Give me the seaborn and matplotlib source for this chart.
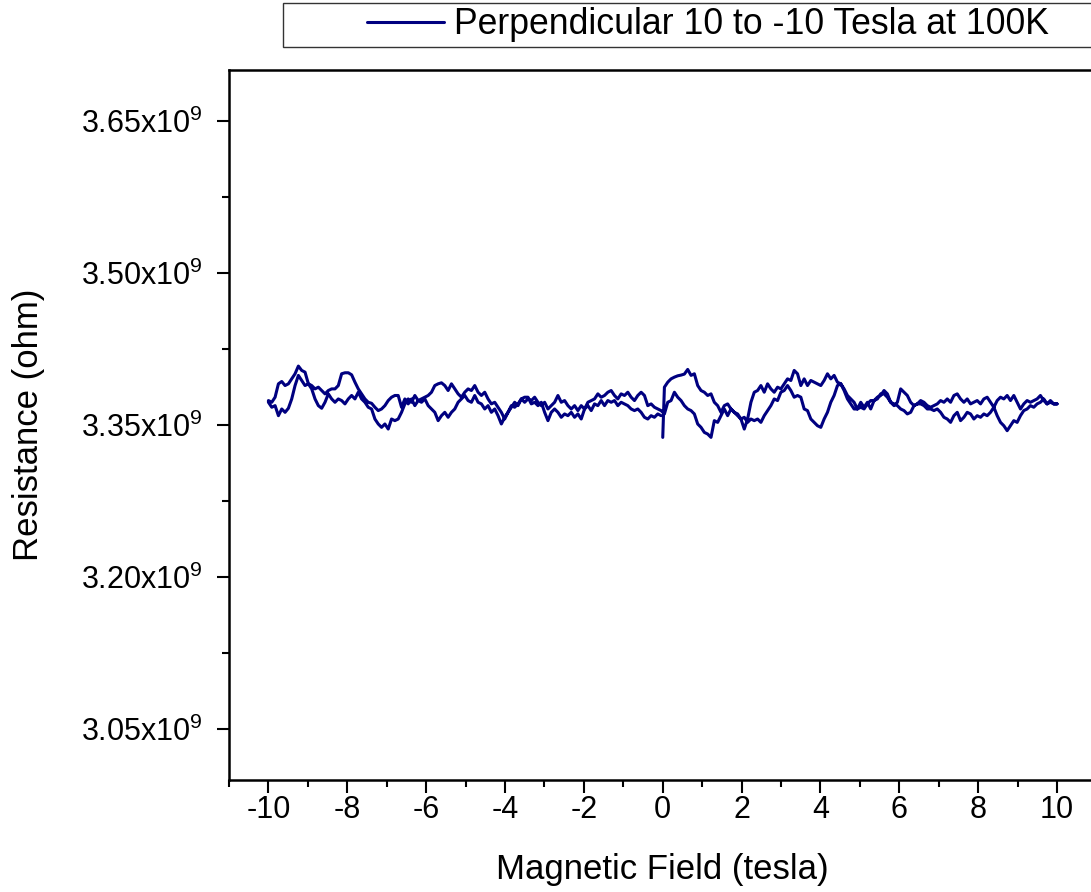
import numpy as np
import pandas as pd
import matplotlib
matplotlib.use("Agg")
import matplotlib.pyplot as plt
from matplotlib.ticker import FixedLocator, AutoMinorLocator, FuncFormatter
from matplotlib.patches import Rectangle
from matplotlib.lines import Line2D
import seaborn as sns

# Field sweep grid (tesla): 119 steps on each side of zero
field = np.linspace(-10, 10, 238)
field_neg = field[:119]
field_pos = field[119:]

# Resistance readings in units of 1e9 ohm
r_start = 3.3378  # first reading at 0 T

# 0 -> +10 T
r_up_pos = [
    3.3873, 3.3922, 3.3955, 3.3972, 3.3985, 3.3992, 3.4002, 3.4048, 3.3989, 3.4005,
    3.3889, 3.3840, 3.3823, 3.3791, 3.3807, 3.3724, 3.3691, 3.3625, 3.3691, 3.3708,
    3.3658, 3.3625, 3.3609, 3.3559, 3.3460, 3.3559, 3.3724, 3.3823, 3.3840, 3.3889,
    3.3823, 3.3906, 3.3856, 3.3823, 3.3873, 3.3856, 3.3906, 3.3955, 3.3939, 3.4038,
    3.4005, 3.3889, 3.3955, 3.3889, 3.3939, 3.3922, 3.3906, 3.3889, 3.3939, 3.4005,
    3.3955, 3.3989, 3.3922, 3.3906, 3.3856, 3.3791, 3.3757, 3.3724, 3.3658, 3.3724,
    3.3675, 3.3724, 3.3658, 3.3741, 3.3774, 3.3791, 3.3840, 3.3807, 3.3724, 3.3691,
    3.3724, 3.3856, 3.3823, 3.3791, 3.3724, 3.3691, 3.3708, 3.3741, 3.3724, 3.3691,
    3.3675, 3.3691, 3.3708, 3.3741, 3.3724, 3.3757, 3.3724, 3.3791, 3.3807, 3.3757,
    3.3724, 3.3757, 3.3708, 3.3724, 3.3741, 3.3708, 3.3757, 3.3774, 3.3724, 3.3675,
    3.3741, 3.3774, 3.3757, 3.3791, 3.3741, 3.3791, 3.3724, 3.3658, 3.3708, 3.3741,
    3.3724, 3.3741, 3.3757, 3.3791, 3.3741, 3.3708, 3.3724, 3.3708, 3.3708,
]

# +10 -> 0 T (listed in increasing field)
r_down_pos = [
    3.3609, 3.3724, 3.3741, 3.3823, 3.3774, 3.3741, 3.3691, 3.3658, 3.3642, 3.3609,
    3.3510, 3.3477, 3.3427, 3.3411, 3.3378, 3.3543, 3.3526, 3.3592, 3.3658, 3.3592,
    3.3658, 3.3625, 3.3592, 3.3559, 3.3576, 3.3526, 3.3559, 3.3543, 3.3559, 3.3526,
    3.3592, 3.3642, 3.3691, 3.3757, 3.3741, 3.3823, 3.3840, 3.3889, 3.3840, 3.3774,
    3.3791, 3.3774, 3.3658, 3.3642, 3.3559, 3.3526, 3.3493, 3.3477, 3.3559, 3.3625,
    3.3724, 3.3791, 3.3889, 3.3906, 3.3840, 3.3757, 3.3708, 3.3658, 3.3658, 3.3675,
    3.3658, 3.3708, 3.3741, 3.3741, 3.3757, 3.3807, 3.3807, 3.3774, 3.3724, 3.3708,
    3.3691, 3.3658, 3.3642, 3.3609, 3.3625, 3.3691, 3.3708, 3.3708, 3.3691, 3.3658,
    3.3658, 3.3642, 3.3658, 3.3625, 3.3576, 3.3559, 3.3526, 3.3592, 3.3625, 3.3543,
    3.3576, 3.3625, 3.3609, 3.3559, 3.3592, 3.3576, 3.3609, 3.3592, 3.3625, 3.3675,
    3.3592, 3.3526, 3.3493, 3.3444, 3.3493, 3.3543, 3.3526, 3.3592, 3.3642, 3.3658,
    3.3691, 3.3675, 3.3708, 3.3724, 3.3757, 3.3708, 3.3741, 3.3708, 3.3708,
]

# 0 -> -10 T (listed in increasing field)
r_down_neg = [
    3.3741, 3.3724, 3.3774, 3.3906, 3.3929, 3.3889, 3.3906, 3.3955, 3.4005, 3.4081,
    3.4038, 3.4021, 3.3906, 3.3889, 3.3856, 3.3873, 3.3840, 3.3807, 3.3840, 3.3856,
    3.3856, 3.3889, 3.4005, 3.4015, 3.4015, 3.3995, 3.3922, 3.3856, 3.3807, 3.3757,
    3.3724, 3.3714, 3.3675, 3.3642, 3.3658, 3.3691, 3.3741, 3.3774, 3.3791,
    3.3791, 3.3675, 3.3757, 3.3708, 3.3757, 3.3691, 3.3741, 3.3724, 3.3757, 3.3691,
    3.3658, 3.3625, 3.3543, 3.3592, 3.3625, 3.3576, 3.3625, 3.3658, 3.3724, 3.3757,
    3.3791, 3.3741, 3.3724, 3.3791, 3.3724, 3.3708, 3.3658, 3.3691, 3.3625, 3.3658,
    3.3592, 3.3510, 3.3576, 3.3625, 3.3675, 3.3724, 3.3691, 3.3757, 3.3724, 3.3757,
    3.3741, 3.3774, 3.3724, 3.3691, 3.3724, 3.3658, 3.3691, 3.3724, 3.3791, 3.3724,
    3.3741, 3.3691, 3.3658, 3.3691, 3.3642, 3.3691, 3.3658, 3.3724, 3.3741, 3.3757,
    3.3807, 3.3774, 3.3791, 3.3823, 3.3840, 3.3791, 3.3757, 3.3807, 3.3791, 3.3823,
    3.3774, 3.3741, 3.3791, 3.3823, 3.3791, 3.3691, 3.3708, 3.3675, 3.3658, 3.3642,
]

# -10 -> 0 T
r_return_neg = [
    3.3724, 3.3675, 3.3691, 3.3592, 3.3658, 3.3625, 3.3665, 3.3757, 3.3889, 3.3989,
    3.3939, 3.3889, 3.3906, 3.3856, 3.3757, 3.3691, 3.3665, 3.3724, 3.3807, 3.3757,
    3.3724, 3.3757, 3.3741, 3.3708, 3.3757, 3.3791, 3.3757, 3.3823, 3.3757, 3.3724,
    3.3675, 3.3658, 3.3559, 3.3510, 3.3477, 3.3510, 3.3460, 3.3559, 3.3543,
    3.3559, 3.3625, 3.3708, 3.3757, 3.3724, 3.3791, 3.3741, 3.3757, 3.3774, 3.3791,
    3.3823, 3.3889, 3.3906, 3.3916, 3.3889, 3.3840, 3.3906, 3.3856, 3.3807, 3.3774,
    3.3823, 3.3856, 3.3840, 3.3889, 3.3823, 3.3791, 3.3823, 3.3757, 3.3708, 3.3724,
    3.3675, 3.3625, 3.3559, 3.3625, 3.3691, 3.3675, 3.3708, 3.3757, 3.3774, 3.3774,
    3.3708, 3.3724, 3.3691, 3.3724, 3.3625, 3.3543, 3.3625, 3.3658, 3.3625, 3.3576,
    3.3609, 3.3592, 3.3625, 3.3576, 3.3609, 3.3559, 3.3658, 3.3691, 3.3642, 3.3708,
    3.3691, 3.3741, 3.3691, 3.3741, 3.3724, 3.3741, 3.3691, 3.3724, 3.3708, 3.3691,
    3.3658, 3.3642, 3.3658, 3.3625, 3.3576, 3.3559, 3.3592, 3.3576, 3.3609, 3.3592,
]

x_ticks = [-10, -8, -6, -4, -2, 0, 2, 4, 6, 8, 10]
y_ticks = [3.05e9, 3.20e9, 3.35e9, 3.50e9, 3.65e9]
legend_label = "Perpendicular 10 to -10 Tesla at 100K"
line_color = "#000080"

# Assemble the full sweep in measurement order
sweep_field = np.concatenate([[0.0], field_pos, field_pos[::-1], field_neg[::-1], field_neg])
sweep_r = np.concatenate([[r_start], r_up_pos, r_down_pos[::-1], r_down_neg[::-1], r_return_neg]) * 1e9
df = pd.DataFrame({"field": sweep_field, "resistance": sweep_r})

sns.set_style("ticks")
plt.rcParams["font.family"] = ["Liberation Sans", "DejaVu Sans"]
plt.rcParams["mathtext.fontset"] = "custom"
plt.rcParams["mathtext.rm"] = "Liberation Sans"
plt.rcParams["mathtext.it"] = "Liberation Sans:italic"
plt.rcParams["mathtext.bf"] = "Liberation Sans:bold"
plt.rcParams["text.color"] = "black"
plt.rcParams["axes.labelcolor"] = "black"

fig = plt.figure(figsize=(10.91, 8.92), dpi=100)
ax = fig.add_axes([229 / 1091, 112 / 892, (1096.5 - 229) / 1091, 710 / 892])

sns.lineplot(data=df, x="field", y="resistance", sort=False, estimator=None,
             color=line_color, linewidth=2.2, ax=ax, legend=False)

ax.set_xlim(-11, 11)
ax.set_ylim(3.0e9, 3.7e9)
ax.xaxis.set_major_locator(FixedLocator(x_ticks))
ax.xaxis.set_minor_locator(AutoMinorLocator(2))
ax.yaxis.set_major_locator(FixedLocator(y_ticks))
ax.yaxis.set_minor_locator(AutoMinorLocator(2))
ax.xaxis.set_major_formatter(FuncFormatter(lambda v, p: f"{v:.0f}"))
ax.yaxis.set_major_formatter(FuncFormatter(lambda v, p: f"{v / 1e9:.2f}x10$^{{9}}$"))

for side in ["left", "bottom", "top"]:
    ax.spines[side].set_linewidth(1.8)
    ax.spines[side].set_color("black")
ax.spines["right"].set_visible(False)

ax.tick_params(axis="both", which="major", direction="out", length=9, width=1.5,
               labelsize=22, colors="black")
ax.tick_params(axis="both", which="minor", direction="out", length=5, width=1.5,
               colors="black")
ax.tick_params(axis="x", pad=2)
ax.tick_params(axis="y", pad=10)

ax.set_xlabel("Magnetic Field (tesla)", fontsize=25, labelpad=20, color="black")
ax.set_ylabel("Resistance (ohm)", fontsize=25, labelpad=26, color="black")

# Legend box along the top edge
fig.patches.append(Rectangle((283 / 1091, (892 - 47) / 892), (1100 - 283) / 1091, 44 / 892,
                             transform=fig.transFigure, facecolor="white",
                             edgecolor="#333333", linewidth=1.0))
handle = Line2D([], [], color=line_color, linewidth=2.2)
fig.legend([handle], [legend_label], loc="center left",
           bbox_to_anchor=(367 / 1091, (892 - 25) / 892), frameon=False,
           fontsize=25.7, handlelength=2.15, handletextpad=0.3,
           borderpad=0, borderaxespad=0, labelcolor="black")

fig.savefig("out.png", dpi=100)
